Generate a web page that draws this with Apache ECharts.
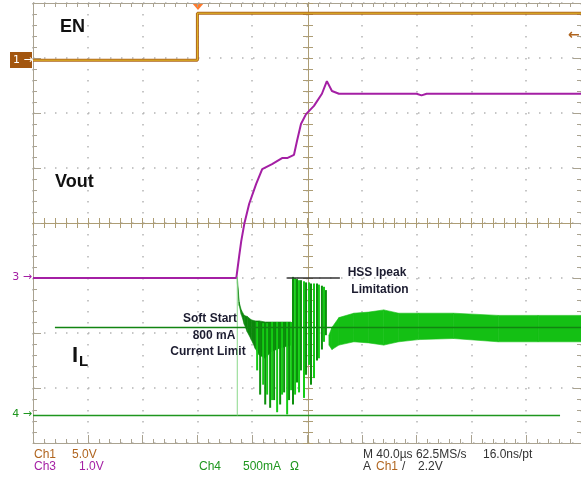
<!DOCTYPE html>
<html>
<head>
<meta charset="utf-8">
<script src="https://cdn.jsdelivr.net/npm/echarts@6/dist/echarts.min.js"></script>
<style>
    html, body { margin: 0; padding: 0; background: #fff; }
    #scope { width: 581px; height: 478px; }
</style>
</head>
<body>
<div id="scope"></div>
<script>
(function () {

    // time base: 40 us/div, trigger at t = 0, 10 divisions across
    var TIME_MIN = -120, TIME_MAX = 280, TIME_DIV = 40;

    // Ch1 - EN (V)
    var enTime = [-120, 0, 0, 280];
    var enVolt = [0, 0, 4.27, 4.27];

    // Ch3 - Vout (V)
    var voutTime = [-120, 28.4, 30.5, 32.0, 34.2, 37.8, 42.9, 47.3, 54.5, 61.8, 65.5, 70.5, 72.7, 75.6, 79.3, 85.1, 90.9, 94.5, 98.2, 103.3, 160.0, 163.6, 167.3, 280];
    var voutVolt = [0, 0, 0.40, 0.67, 0.98, 1.35, 1.71, 1.98, 2.07, 2.18, 2.18, 2.24, 2.49, 2.80, 2.98, 3.13, 3.35, 3.58, 3.40, 3.35, 3.35, 3.32, 3.35, 3.35];

    // Ch4 - inductor current (A)
    var ilBaseTime = [-120, 264.7];
    var ilBaseAmp = [0, 0];
    var ilEdgeTime = [29.1, 29.1];
    var ilEdgeAmp = [0, 1.26];

    // soft start phase, dense ripple envelope
    var softTime = [29.1, 30.5, 32.0, 34.2, 36.4, 39.3, 42.2, 45.1, 49.5, 53.8, 59.6, 68.4];
    var softHigh = [1.26, 1.03, 0.96, 0.91, 0.90, 0.87, 0.86, 0.86, 0.85, 0.85, 0.85, 0.85];
    var softLow = [1.21, 1.00, 0.92, 0.83, 0.76, 0.69, 0.61, 0.55, 0.52, 0.58, 0.61, 0.64];

    // single switching spikes (time, top, bottom)
    var spikeTime = [43.6, 45.8, 48.0, 49.5, 50.9, 53.1, 54.5, 56.0, 58.2, 60.4, 61.8, 63.3, 65.5, 66.9, 68.4,
        69.8, 71.3, 72.7, 74.2, 75.6, 77.8, 79.3, 81.5, 82.9, 85.1, 87.3, 88.7, 90.9, 92.4, 93.8];
    var spikeHigh = [0.85, 0.85, 0.84, 0.84, 0.84, 0.84, 0.85, 0.85, 0.85, 0.85, 0.85, 0.85, 0.85, 0.85, 0.85,
        1.26, 1.25, 1.24, 1.23, 1.23, 1.22, 1.21, 1.21, 1.20, 1.20, 1.20, 1.19, 1.18, 1.17, 1.14];
    var spikeLow = [0.41, 0.19, 0.28, 0.10, 0.19, 0.07, 0.14, 0.14, 0.03, 0.10, 0.19, 0.21, 0.01, 0.14, 0.23,
        0.10, 0.19, 0.30, 0.21, 0.41, 0.16, 0.37, 0.46, 0.28, 0.34, 0.50, 0.52, 0.60, 0.67, 0.73];

    // steady state ripple envelope
    var steadyTime = [96.0, 98.2, 103.3, 114.2, 125.1, 136.0, 146.9, 161.5, 186.9, 219.6, 248.7, 280];
    var steadyHigh = [0.73, 0.80, 0.89, 0.93, 0.94, 0.96, 0.93, 0.93, 0.93, 0.91, 0.91, 0.91];
    var steadyLow = [0.64, 0.60, 0.64, 0.67, 0.66, 0.64, 0.67, 0.69, 0.70, 0.67, 0.67, 0.67];

    // annotation levels
    var limitTime = [-104, 280];
    var limitAmp = [0.8, 0.8];
    var hssTime = [65.5, 104];
    var hssAmp = [1.25, 1.25];

    var BORDER = '#aaa391',
        CENTER = '#ad9d75',
        DOTS = '#b4b4b4',
        BROWN = '#b0651f',
        MAGENTA = '#a41fa4',
        GREEN = '#1e961e';

    function zip(xs, ys) {
        return xs.map(function (x, i) {
            return [x, ys[i]];
        });
    }

    function timeAxis(opts) {
        return Object.assign({
            type: 'value',
            min: TIME_MIN,
            max: TIME_MAX,
            interval: TIME_DIV,
            axisLabel: { show: false },
            splitLine: { show: false },
            axisLine: { onZero: false, lineStyle: { color: BORDER, width: 1 } },
            axisTick: { inside: true, length: 8, lineStyle: { color: BORDER } },
            minorTick: { show: true, splitNumber: 5, length: 4, lineStyle: { color: BORDER } }
        }, opts);
    }

    function divAxis(opts) {
        return Object.assign({
            type: 'value',
            min: -4,
            max: 4,
            interval: 1,
            axisLabel: { show: false },
            splitLine: { show: false },
            axisLine: { onZero: false, lineStyle: { color: BORDER, width: 1 } },
            axisTick: { inside: true, length: 8, lineStyle: { color: BORDER } },
            minorTick: { show: true, splitNumber: 5, length: 4, lineStyle: { color: BORDER } }
        }, opts);
    }

    var dotted = { show: true, lineStyle: { color: DOTS, width: 1.5, type: [1.5, 9.5] } };
    var centerLine = { onZero: false, lineStyle: { color: CENTER, width: 1 } };

    function trace(name, y, xs, ys, color, width) {
        return {
            name: name,
            type: 'line',
            xAxisIndex: 0,
            yAxisIndex: y,
            data: zip(xs, ys),
            symbol: 'none',
            silent: true,
            lineStyle: { color: color, width: width }
        };
    }

    // ripple envelope drawn as a chain of quads between the high and low edges
    function band(name, xs, hi, lo, color) {
        var data = [];
        for (var i = 0; i < xs.length - 1; i++) {
            data.push([xs[i], hi[i], lo[i], xs[i + 1], hi[i + 1], lo[i + 1]]);
        }
        return {
            name: name,
            type: 'custom',
            xAxisIndex: 0,
            yAxisIndex: 6,
            silent: true,
            encode: { x: [0, 3], y: [1, 2, 4, 5] },
            data: data,
            renderItem: function (params, api) {
                var a = api.coord([api.value(0), api.value(1)]),
                    b = api.coord([api.value(3), api.value(4)]),
                    c = api.coord([api.value(3), api.value(5)]),
                    d = api.coord([api.value(0), api.value(2)]);
                return {
                    type: 'polygon',
                    shape: { points: [a, b, c, d] },
                    style: { fill: color, stroke: color, lineWidth: 0.6 }
                };
            }
        };
    }

    function label(text, x, y, color, font, align) {
        return {
            type: 'text',
            silent: true,
            style: {
                text: text,
                x: x,
                y: y,
                fill: color,
                font: font,
                textAlign: align || 'left',
                textVerticalAlign: 'middle'
            }
        };
    }

    var BIG = 'bold 18px "Liberation Sans", Arial, sans-serif',
        NOTE = 'bold 12px "Liberation Sans", Arial, sans-serif',
        STATUS = '12px "Liberation Sans", Arial, sans-serif',
        MARK = '11px "DejaVu Sans", sans-serif';

    var option = {
        animation: false,
        backgroundColor: '#fff',
        grid: { left: 33, top: 3, width: 550, height: 440 },
        xAxis: [
            timeAxis({ splitLine: dotted }),
            timeAxis({ position: 'top', axisTick: { inside: true, length: 4, lineStyle: { color: BORDER } } }),
            timeAxis({ offset: -220, axisLine: centerLine,
                axisTick: { inside: true, length: 5, lineStyle: { color: CENTER } },
                minorTick: { show: true, splitNumber: 5, length: 5, lineStyle: { color: CENTER } } }),
            timeAxis({ offset: -220, axisLine: centerLine,
                axisTick: { inside: false, length: 5, lineStyle: { color: CENTER } },
                minorTick: { show: true, splitNumber: 5, length: 5, lineStyle: { color: CENTER } } })
        ],
        yAxis: [
            divAxis({ position: 'left', splitLine: dotted }),
            divAxis({ position: 'right' }),
            divAxis({ position: 'left', offset: -275, axisLine: centerLine,
                axisTick: { inside: true, length: 5, lineStyle: { color: CENTER } },
                minorTick: { show: true, splitNumber: 5, length: 5, lineStyle: { color: CENTER } } }),
            divAxis({ position: 'left', offset: -275, axisLine: centerLine,
                axisTick: { inside: false, length: 5, lineStyle: { color: CENTER } },
                minorTick: { show: true, splitNumber: 5, length: 5, lineStyle: { color: CENTER } } }),
            // Ch1 5 V/div
            { type: 'value', show: false, min: -34.8, max: 5.2 },
            // Ch3 1 V/div
            { type: 'value', show: false, min: -3, max: 5 },
            // Ch4 500 mA/div
            { type: 'value', show: false, min: -0.25, max: 3.75 }
        ],
        series: [
            trace('EN', 4, enTime, enVolt, BROWN, 3),
            trace('EN core', 4, enTime, enVolt, '#e2bd26', 1),
            trace('Vout', 5, voutTime, voutVolt, MAGENTA, 2),
            trace('IL base', 6, ilBaseTime, ilBaseAmp, GREEN, 1.5),
            trace('IL edge', 6, ilEdgeTime, ilEdgeAmp, '#8ad88a', 1),
            band('soft', softTime, softHigh, softLow, '#0b870b'),
            {
                name: 'spikes',
                type: 'custom',
                xAxisIndex: 0,
                yAxisIndex: 6,
                silent: true,
                encode: { x: 0, y: [1, 2] },
                data: spikeTime.map(function (t, i) {
                    return [t, spikeHigh[i], spikeLow[i]];
                }),
                renderItem: function (params, api) {
                    var top = api.coord([api.value(0), api.value(1)]),
                        bot = api.coord([api.value(0), api.value(2)]);
                    return {
                        type: 'line',
                        shape: { x1: top[0], y1: top[1], x2: bot[0], y2: bot[1] },
                        style: {
                            stroke: params.dataIndex % 2 ? '#0c8f0c' : '#14cc14',
                            lineWidth: 2
                        }
                    };
                }
            },
            band('steady', steadyTime, steadyHigh, steadyLow, '#14c014'),
            trace('800 mA limit', 6, limitTime, limitAmp, '#128412', 1.5),
            trace('HSS Ipeak', 6, hssTime, hssAmp, '#333333', 1.5)
        ],
        graphic: [
            // trigger position and level markers
            { type: 'polygon', silent: true, shape: { points: [[192, 3], [204, 3], [198, 10]] }, style: { fill: '#ff7b2e' } },
            label('←', 568, 35, BROWN, 'bold 14px "DejaVu Sans", sans-serif'),
            // channel ground markers
            { type: 'rect', silent: true, shape: { x: 10, y: 52, width: 22, height: 16 }, style: { fill: '#a3560f' } },
            label('1 →', 13, 60, '#fff', MARK),
            label('3 →', 32, 277, MAGENTA, MARK, 'right'),
            label('4 →', 32, 414, GREEN, MARK, 'right'),
            // trace names
            label('EN', 60, 27, '#111', BIG),
            label('Vout', 55, 182, '#111', BIG),
            label('I', 72, 356, '#111', 'bold 22px "Liberation Sans", Arial, sans-serif'),
            label('L', 79, 362, '#111', 'bold 15px "Liberation Sans", Arial, sans-serif'),
            // annotations
            label('Soft Start', 210, 319, '#1c1c30', NOTE, 'center'),
            label('800 mA', 214, 336, '#1c1c30', NOTE, 'center'),
            label('Current Limit', 208, 352, '#1c1c30', NOTE, 'center'),
            label('HSS Ipeak', 377, 273, '#1c1c30', NOTE, 'center'),
            label('Limitation', 380, 290, '#1c1c30', NOTE, 'center'),
            // status readout
            label('Ch1', 34, 455, BROWN, STATUS),
            label('5.0V', 72, 455, BROWN, STATUS),
            label('Ch3', 34, 467, MAGENTA, STATUS),
            label('1.0V', 79, 467, MAGENTA, STATUS),
            label('Ch4', 199, 467, GREEN, STATUS),
            label('500mA', 243, 467, GREEN, STATUS),
            label('Ω', 290, 467, GREEN, STATUS),
            label('M 40.0µs 62.5MS/s', 363, 455, '#333', STATUS),
            label('16.0ns/pt', 483, 455, '#333', STATUS),
            label('A', 363, 467, '#333', STATUS),
            label('Ch1', 376, 467, BROWN, STATUS),
            label('/', 402, 467, '#333', STATUS),
            label('2.2V', 418, 467, '#333', STATUS)
        ]
    };

    var chart = echarts.init(document.getElementById('scope'), null, { renderer: 'canvas' });
    chart.setOption(option);

})();
</script>
</body>
</html>
